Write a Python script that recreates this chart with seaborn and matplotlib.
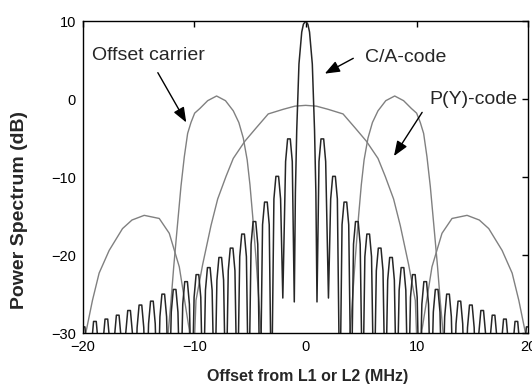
import numpy as np
import pandas as pd
import matplotlib
matplotlib.use('Agg')
import matplotlib.pyplot as plt
import seaborn as sns

# C/A-code, positive half (MHz, dB), one row per lobe; mirrored for the negative half
ca_pos_f = [0, 0.2, 0.35, 0.6, 0.8, 0.92, 1.02,
            1.2, 1.38, 1.62, 1.8, 2.05,
            2.25, 2.43, 2.67, 2.85, 3.07,
            3.27, 3.45, 3.69, 3.87, 4.09,
            4.3, 4.48, 4.72, 4.9, 5.12,
            5.32, 5.5, 5.74, 5.92, 6.14,
            6.35, 6.53, 6.77, 6.95, 7.16,
            7.37, 7.55, 7.79, 7.97, 8.18,
            8.4, 8.58, 8.82, 9.0, 9.21,
            9.42, 9.6, 9.84, 10.02, 10.23,
            10.44, 10.62, 10.86, 11.04, 11.25,
            11.47, 11.65, 11.89, 12.07, 12.28,
            12.49, 12.67, 12.91, 13.09, 13.3,
            13.51, 13.69, 13.93, 14.11, 14.32,
            14.54, 14.72, 14.96, 15.14, 15.35,
            15.56, 15.74, 15.98, 16.16, 16.37,
            16.58, 16.76, 17.0, 17.18, 17.39,
            17.6, 17.78, 18.02, 18.2, 18.41,
            18.63, 18.81, 19.05, 19.23, 19.44,
            19.65, 19.83, 20.07, 20.25, 20.46]
ca_pos_db = [10, 9.6, 8.6, 4.5, -4, -12, -26,
             -8.0, -5.1, -5.1, -8.0, -25.5,
             -12.8, -9.9, -9.9, -12.8, -40,
             -16.1, -13.2, -13.2, -16.1, -40,
             -18.6, -15.7, -15.7, -18.6, -40,
             -20.2, -17.3, -17.3, -20.2, -40,
             -22.0, -19.1, -19.1, -22.0, -40,
             -23.2, -20.3, -20.3, -23.2, -40,
             -24.5, -21.6, -21.6, -24.5, -40,
             -25.4, -22.5, -22.5, -25.4, -40,
             -26.3, -23.4, -23.4, -26.3, -40,
             -27.3, -24.4, -24.4, -27.3, -40,
             -27.9, -25.0, -25.0, -27.9, -40,
             -28.8, -25.9, -25.9, -28.8, -40,
             -29.3, -26.4, -26.4, -29.3, -40,
             -30.0, -27.1, -27.1, -30.0, -40,
             -30.6, -27.7, -27.7, -30.6, -40,
             -31.1, -28.2, -28.2, -31.1, -40,
             -31.4, -28.5, -28.5, -31.4, -40,
             -32.1, -29.2, -29.2, -32.1, -40]

# P(Y)-code, positive half
py_pos_f = [0, 0.96, 2.0, 3.36, 4.45, 5.46, 6.5, 7.15, 7.9, 8.5, 9.25, 9.85, 10.23,
            10.45, 11.35, 12.25, 13.15, 14.5, 15.6, 16.45, 17.65, 18.55, 19.15, 19.75, 20.2]
py_pos_db = [-0.8, -0.9, -1.3, -1.9, -3.7, -5.4, -7.6, -9.9, -12.8, -16.2, -21.2, -25.8, -40,
             -29.6, -21.5, -17.2, -15.3, -14.9, -15.5, -16.6, -19.4, -22.3, -25.8, -30, -36]

# Offset carrier, one lobe (positive side), mirrored for the other lobe
oc_f = [4.0, 4.45, 4.75, 5.0, 5.25, 5.6, 6.0, 6.5, 7.2, 8.0, 8.8, 9.5, 9.97,
        10.3, 10.6, 10.9, 11.2, 11.6, 11.85, 12.1, 12.35]
oc_db = [-30, -20.6, -15.1, -11.0, -7.8, -5.0, -3.0, -1.5, -0.2, 0.4, -0.2, -1.2, -1.8,
         -3.0, -4.4, -7.4, -11.2, -17.5, -21.5, -26.0, -30.0]

ca = pd.DataFrame({'f': [-v for v in ca_pos_f[:0:-1]] + ca_pos_f,
                   'db': ca_pos_db[:0:-1] + ca_pos_db})
py = pd.DataFrame({'f': [-v for v in py_pos_f[:0:-1]] + py_pos_f,
                   'db': py_pos_db[:0:-1] + py_pos_db})
oc_right = pd.DataFrame({'f': oc_f, 'db': oc_db})
oc_left = pd.DataFrame({'f': [-v for v in oc_f], 'db': oc_db})

sns.set_style('white')
plt.rcParams['font.family'] = ['Liberation Sans', 'DejaVu Sans']

fig = plt.figure(figsize=(5.32, 3.91), dpi=100)
ax = fig.add_axes([0.156, 0.148, 0.837, 0.798])

sns.lineplot(data=py, x='f', y='db', ax=ax, sort=False, color='#808080', lw=1.0)
sns.lineplot(data=oc_left, x='f', y='db', ax=ax, sort=False, color='#808080', lw=1.0)
sns.lineplot(data=oc_right, x='f', y='db', ax=ax, sort=False, color='#808080', lw=1.0)
sns.lineplot(data=ca, x='f', y='db', ax=ax, sort=False, color='#262626', lw=1.1)

ax.set_xlim(-20, 20)
ax.set_ylim(-30, 10)
ax.set_xticks([-20, -10, 0, 10, 20])
ax.set_yticks([10, 0, -10, -20, -30])
ax.tick_params(direction='in', length=4, width=1, top=True, right=True,
               labelsize=10.5, colors='black', pad=5)
for s in ax.spines.values():
    s.set_color('black')
    s.set_linewidth(1)

ax.set_xlabel('Offset from L1 or L2 (MHz)', fontsize=11.5, fontweight='bold')
ax.xaxis.set_label_coords(0.504, -0.115)
ax.set_ylabel('Power Spectrum (dB)', fontsize=14, fontweight='bold')
ax.yaxis.set_label_coords(-0.124, 0.394)

arrow = dict(arrowstyle='-|>,head_length=0.9,head_width=0.35', color='black', lw=1)
ax.annotate('', xy=(-10.6, -3.3), xytext=(-13.4, 3.7), arrowprops=arrow)
ax.annotate('', xy=(1.5, 3.1), xytext=(4.5, 5.4), arrowprops=arrow)
ax.annotate('', xy=(7.8, -7.6), xytext=(10.6, -1.4), arrowprops=arrow)
ax.text(-14.1, 5.6, 'Offset carrier', fontsize=14, ha='center', va='center')
ax.text(5.3, 5.3, 'C/A-code', fontsize=14, ha='left', va='center')
ax.text(11.1, -0.1, 'P(Y)-code', fontsize=14, ha='left', va='center')

plt.savefig('out.png', dpi=100)
